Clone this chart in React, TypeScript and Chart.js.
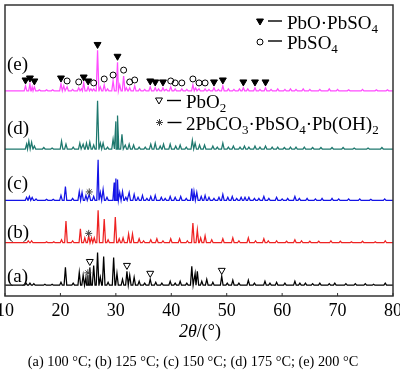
import React, { useEffect, useRef } from 'react';
import { Chart, registerables } from 'chart.js';
import { drawPoint } from 'chart.js/helpers';

Chart.register(...registerables);

// ---------- data ----------
const xTicks = [10, 20, 30, 40, 50, 60, 70, 80];
const seriesLabels = ['(a)', '(b)', '(c)', '(d)', '(e)'];
const seriesOffsets = [11, 54, 97, 149, 208];
const labelLevels = [19, 64, 114, 169, 234.5];
const seriesColors = ['#000000', '#ee2222', '#1414e6', '#1e786e', '#ff4cff'];

// [2θ, intensity]
const peaksA: [number, number][] = [
  [13.8, 2], [14.5, 2], [15.2, 1.5], [17.2, 1], [18.5, 1], [20.1, 3], [20.9, 18], [22.3, 2],
  [23.4, 13], [24.1, 10], [24.6, 8], [24.95, 10], [25.3, 18], [26.0, 20], [26.7, 33], [27.2, 8],
  [27.8, 29], [28.6, 3], [29.6, 28], [30.2, 12], [31.2, 6], [32.0, 14], [32.5, 10], [33.3, 8],
  [34.2, 4], [35.2, 2], [36.2, 6], [37.2, 3], [38.3, 2], [39.8, 4], [40.7, 2], [41.6, 4],
  [42.8, 2], [43.7, 19], [44.3, 12], [44.7, 14], [45.5, 4], [46.4, 6], [47.5, 3], [49.1, 9],
  [50.1, 2], [51.1, 5], [52.2, 2], [53.9, 5], [55.0, 2], [56.9, 4], [57.8, 2], [59.0, 3],
  [60.5, 2], [62.3, 4], [63.2, 2], [64.2, 2], [65.5, 1.5], [66.8, 2], [68.5, 1.5], [69.5, 2],
  [71.5, 1.5], [73.2, 1.5], [75.0, 1.5], [76.5, 1], [78.6, 2],
];
const peaksB: [number, number][] = [
  [14.2, 2], [14.8, 2], [17.5, 1], [18.8, 1], [20.2, 3], [21.0, 22], [22.2, 2], [23.6, 14],
  [24.4, 5], [25.1, 7], [25.6, 5], [26.1, 5], [26.8, 33], [27.9, 24], [28.6, 3], [29.9, 26],
  [30.6, 4], [31.3, 5], [32.3, 9], [33.0, 9], [34.2, 4], [35.0, 2], [36.3, 3], [37.4, 4],
  [38.5, 2], [39.9, 4], [41.5, 4], [42.9, 2], [43.9, 20], [44.7, 13], [45.3, 5], [46.1, 7],
  [47.3, 3], [49.3, 4], [51.1, 5], [52.2, 2], [53.9, 5], [55.2, 2], [56.7, 4], [57.5, 2],
  [59.0, 2], [60.8, 1.5], [62.3, 3], [63.5, 2], [65.0, 1.5], [66.6, 1.5], [68.8, 2], [70.5, 1.5],
  [72.5, 1], [74.5, 1.5], [76.8, 1], [78.6, 2],
];
const peaksC: [number, number][] = [
  [13.9, 3], [14.4, 4], [14.9, 3], [15.6, 1.5], [17.5, 1], [18.7, 1], [20.1, 5], [20.9, 14],
  [22.2, 2], [23.4, 9], [23.9, 8], [24.6, 5], [25.2, 6], [26.0, 4], [26.8, 41], [27.2, 8],
  [27.7, 11], [28.4, 3], [29.7, 18], [30.0, 22], [30.3, 21], [30.7, 8], [31.2, 9], [31.8, 3],
  [32.4, 8], [33.3, 6], [34.0, 3], [34.8, 5], [35.6, 2], [36.3, 4], [37.1, 5], [38.2, 3],
  [38.9, 2], [39.8, 4], [40.7, 3], [41.7, 4], [42.7, 2], [43.7, 12], [44.1, 9], [44.6, 8],
  [45.4, 4], [46.1, 5], [46.8, 3], [47.7, 2], [48.6, 3], [49.3, 6], [50.2, 3], [51.0, 4],
  [51.8, 2], [52.6, 3], [53.3, 3], [54.0, 3], [55.0, 2], [55.8, 2], [56.7, 4], [57.6, 2],
  [59.0, 3], [60.0, 1.5], [61.0, 2], [62.3, 4], [63.1, 2], [64.5, 2], [66.0, 1.5], [67.2, 2],
  [69.0, 2], [70.2, 1.5], [72.0, 1.5], [74.0, 1.5], [76.0, 1], [78.5, 1.5],
];
const peaksD: [number, number][] = [
  [13.9, 5], [14.3, 8], [14.8, 7], [15.3, 3], [17.0, 1.5], [18.5, 1], [20.2, 8], [21.0, 5],
  [22.3, 2], [23.5, 6], [24.1, 5], [24.7, 6], [25.3, 7], [26.0, 4], [26.7, 49], [27.2, 6],
  [27.7, 6], [28.5, 2], [29.5, 10], [30.0, 28], [30.3, 34], [31.1, 15], [31.7, 4], [32.4, 5],
  [33.2, 4], [34.2, 2], [35.3, 2], [36.3, 5], [37.1, 6], [38.0, 3], [38.6, 5], [39.8, 5],
  [40.8, 3], [41.6, 4], [42.7, 2], [43.8, 9], [44.3, 6], [45.1, 4], [46.0, 4], [47.5, 3],
  [48.3, 2], [49.3, 6], [50.3, 2], [51.2, 3], [52.4, 2], [53.2, 3], [54.0, 2], [55.1, 3],
  [56.0, 2], [57.0, 3], [58.2, 2], [59.2, 2], [60.4, 1.5], [61.5, 2], [62.5, 2], [64.0, 2],
  [65.5, 1.5], [67.0, 1.5], [69.0, 1.5], [71.0, 1.5], [73.0, 1], [75.5, 1], [78.0, 1.5],
];
const peaksE: [number, number][] = [
  [13.7, 5], [14.5, 7], [14.9, 4], [15.3, 4], [16.2, 1], [17.5, 1], [18.6, 1], [20.1, 7],
  [20.6, 5], [21.2, 4], [22.2, 1.5], [23.3, 3], [23.8, 2], [24.2, 8], [25.0, 4], [25.5, 2],
  [26.0, 2], [26.7, 41], [27.2, 4], [27.9, 6], [28.5, 2], [29.5, 10], [30.3, 29], [30.7, 6],
  [31.4, 15], [31.9, 3], [32.5, 3], [33.4, 5], [34.3, 2], [35.2, 1.5], [36.2, 4], [37.1, 3],
  [37.7, 2], [38.5, 3], [39.1, 1.5], [39.9, 4], [40.7, 2], [41.9, 2], [42.8, 1.5], [43.9, 6],
  [44.4, 3], [45.0, 2], [46.1, 2], [46.8, 1.5], [47.7, 3], [48.5, 1.5], [49.3, 5], [50.3, 2],
  [51.3, 1.5], [52.3, 2], [53.0, 3], [53.8, 2], [55.1, 3], [56.0, 1.5], [57.0, 3], [58.0, 1.5],
  [59.2, 2], [60.5, 1.5], [61.5, 2], [62.5, 1.5], [63.8, 2], [65.0, 1.5], [66.8, 1.5], [68.5, 2],
  [70.0, 1.5], [72.0, 1], [74.5, 1.5], [77.0, 1], [79.0, 1],
];
const allPeaks = [peaksA, peaksB, peaksC, peaksD, peaksE];

// phase markers (2θ positions)
const pbOPbSO4OnE = [13.7, 14.5, 15.3, 20.1, 24.2, 25.0, 26.7, 30.3, 36.2, 37.1, 38.5, 47.7, 49.3, 53.0, 55.1, 57.0];
const pbSO4OnE = [21.2, 23.3, 26.0, 27.9, 29.5, 31.4, 32.5, 33.4, 39.9, 40.7, 41.9, 43.9, 45.0, 46.1];
const pbO2OnA = [25.3, 32.0, 36.2, 49.1];
const carbonateOn: [number, number][] = [[0, 24.95], [1, 25.1], [2, 25.2]];

const legendTop = ['PbO·PbSO_4', 'PbSO_4'];
const legendMid = ['PbO_2', '2PbCO_3·PbSO_4·Pb(OH)_2'];
const caption = '(a) 100 °C; (b) 125 °C; (c) 150 °C; (d) 175 °C; (e) 200 °C';

// ---------- helpers ----------
const HALF = 0.24;
function buildProfile(peaks: [number, number][], offset: number) {
  const pts: { x: number; y: number }[] = [{ x: 10, y: offset }];
  peaks.forEach(([p, h]) => {
    pts.push({ x: p - HALF, y: offset }, { x: p, y: offset + h }, { x: p + HALF, y: offset });
  });
  pts.push({ x: 80, y: offset });
  pts.sort((a, b) => a.x - b.x);
  return pts;
}
function levelAt(peaks: [number, number][], offset: number, pos: number) {
  let m = 0;
  for (const [p, h] of peaks) {
    const d = Math.abs(p - pos);
    if (d < HALF) m = Math.max(m, h * (1 - d / HALF));
  }
  return offset + m;
}
const SERIF = '"Liberation Serif", "Times New Roman", serif';
function drawChem(ctx: CanvasRenderingContext2D, text: string, x: number, baseline: number, size: number) {
  const parts = text.split(/_(\d)/);
  let cx = x;
  parts.forEach((s, i) => {
    const sub = i % 2 === 1;
    ctx.font = `${sub ? Math.round(size * 0.68) : size}px ${SERIF}`;
    ctx.fillText(s, cx, sub ? baseline + size * 0.22 : baseline);
    cx += ctx.measureText(s).width;
  });
}

const overlay = {
  id: 'overlay',
  afterDraw(chart: any) {
    const { ctx, chartArea: ca, scales } = chart;
    const xs = scales.x;
    const ys = scales.y;
    ctx.save();
    // frame
    ctx.strokeStyle = '#333';
    ctx.lineWidth = 1.5;
    ctx.strokeRect(ca.left, ca.top, ca.right - ca.left, ca.bottom - ca.top);
    // inward ticks
    ctx.lineWidth = 1;
    xTicks.forEach((v) => {
      const px = xs.getPixelForValue(v);
      ctx.beginPath();
      ctx.moveTo(px, ca.bottom);
      ctx.lineTo(px, ca.bottom - 3);
      ctx.stroke();
    });
    // series labels
    ctx.fillStyle = '#000';
    ctx.textAlign = 'left';
    ctx.textBaseline = 'middle';
    ctx.font = `19px ${SERIF}`;
    seriesLabels.forEach((t, i) => ctx.fillText(t, ca.left + 2, ys.getPixelForValue(labelLevels[i])));

    // legends
    ctx.textBaseline = 'alphabetic';
    const rows = [
      { sym: 'tri', text: legendTop[0], sx: 260, sy: 21, tx: 287, base: 28.5 },
      { sym: 'circ', text: legendTop[1], sx: 260, sy: 42, tx: 287, base: 48.5 },
      { sym: 'otri', text: legendMid[0], sx: 159, sy: 100, tx: 186, base: 108 },
      { sym: 'star', text: legendMid[1], sx: 159.5, sy: 122.5, tx: 186, base: 130 },
    ];
    rows.forEach((r) => {
      ctx.strokeStyle = '#000';
      ctx.lineWidth = 1;
      if (r.sym === 'tri') {
        ctx.fillStyle = '#000';
        drawPoint(ctx, { pointStyle: 'triangle', radius: 4, rotation: 180, borderWidth: 1 } as any, r.sx, r.sy);
      } else if (r.sym === 'circ') {
        ctx.fillStyle = 'rgba(255,255,255,0)';
        drawPoint(ctx, { pointStyle: 'circle', radius: 3, rotation: 0, borderWidth: 1 } as any, r.sx, r.sy);
      } else if (r.sym === 'otri') {
        ctx.fillStyle = '#fff';
        drawPoint(ctx, { pointStyle: 'triangle', radius: 4, rotation: 180, borderWidth: 1 } as any, r.sx, r.sy);
      } else {
        ctx.fillStyle = 'rgba(255,255,255,0)';
        ctx.strokeStyle = '#444';
        drawPoint(ctx, { pointStyle: 'star', radius: 3.5, rotation: 0, borderWidth: 1 } as any, r.sx, r.sy);
      }
      ctx.fillStyle = '#000';
      ctx.fillRect(r.sx + 8, r.base - 8.2, 14, 1.4);
      drawChem(ctx, r.text, r.tx, r.base, 19);
    });

    // axis title
    ctx.fillStyle = '#000';
    ctx.font = `italic 18px ${SERIF}`;
    const t1 = '2θ';
    const w1 = ctx.measureText(t1).width;
    ctx.font = `18px ${SERIF}`;
    const t2 = '/(°)';
    const w2 = ctx.measureText(t2).width;
    const cx = (ca.left + ca.right) / 2 + 1;
    const sx = cx - (w1 + w2) / 2;
    ctx.font = `italic 18px ${SERIF}`;
    ctx.fillText(t1, sx, 337);
    ctx.font = `18px ${SERIF}`;
    ctx.fillText(t2, sx + w1, 337);

    // caption
    ctx.font = `14.3px ${SERIF}`;
    ctx.textAlign = 'center';
    ctx.fillText(caption, 193, 366);
    ctx.restore();
  },
};

export default function App() {
  const ref = useRef<HTMLCanvasElement | null>(null);
  useEffect(() => {
    document.body.style.margin = '0';
    const canvas = ref.current;
    if (!canvas) return;
    const lineSets = allPeaks.map((pk, i) => ({
      type: 'line' as const,
      label: seriesLabels[i],
      data: buildProfile(pk, seriesOffsets[i]),
      borderColor: seriesColors[i],
      borderWidth: 1.25,
      pointRadius: 0,
      tension: 0,
      fill: false,
      order: 10,
    }));
    const markerSets: any[] = [
      {
        type: 'line',
        label: 'PbO·PbSO4',
        showLine: false,
        data: pbOPbSO4OnE.map((p) => ({ x: p, y: levelAt(peaksE, seriesOffsets[4], p) + 6 })),
        pointStyle: 'triangle',
        rotation: 180,
        pointRadius: 4,
        pointBackgroundColor: '#000',
        pointBorderColor: '#000',
        pointBorderWidth: 1,
        order: 1,
      },
      {
        type: 'line',
        label: 'PbSO4',
        showLine: false,
        data: pbSO4OnE.map((p) => ({ x: p, y: levelAt(peaksE, seriesOffsets[4], p) + 6 })),
        pointStyle: 'circle',
        pointRadius: 3,
        pointBackgroundColor: 'rgba(255,255,255,0)',
        pointBorderColor: '#000',
        pointBorderWidth: 1,
        order: 1,
      },
      {
        type: 'line',
        label: 'PbO2',
        showLine: false,
        data: pbO2OnA.map((p) => ({ x: p, y: levelAt(peaksA, seriesOffsets[0], p) + 6 })),
        pointStyle: 'triangle',
        rotation: 180,
        pointRadius: 4,
        pointBackgroundColor: '#fff',
        pointBorderColor: '#000',
        pointBorderWidth: 1,
        order: 1,
      },
      {
        type: 'line',
        label: 'carbonate',
        showLine: false,
        data: carbonateOn.map(([s, p]) => ({ x: p, y: levelAt(allPeaks[s], seriesOffsets[s], p) + 2.5 })),
        pointStyle: 'star',
        pointRadius: 3.5,
        pointBorderColor: '#444',
        pointBorderWidth: 1,
        order: 1,
      },
    ];
    const chart = new Chart(canvas, {
      type: 'line',
      data: { datasets: [...lineSets, ...markerSets] },
      options: {
        animation: false,
        responsive: false,
        devicePixelRatio: 1,
        parsing: false as any,
        layout: { padding: { left: 5, right: 7, top: 1, bottom: 0 } },
        plugins: { legend: { display: false }, tooltip: { enabled: false }, title: { display: false } },
        scales: {
          x: {
            type: 'linear',
            min: 10,
            max: 80,
            afterBuildTicks: (scale: any) => {
              scale.ticks = xTicks.map((v) => ({ value: v }));
            },
            afterFit: (scale: any) => {
              scale.paddingLeft = 0;
              scale.paddingRight = 0;
              scale.height = 77;
            },
            ticks: {
              autoSkip: false,
              maxRotation: 0,
              padding: 4,
              color: '#000',
              font: { family: SERIF, size: 18 },
            },
            grid: { display: false, drawTicks: false },
            border: { display: false },
          },
          y: { type: 'linear', display: false, min: 0, max: 295 },
        },
      },
      plugins: [overlay],
    });
    return () => chart.destroy();
  }, []);
  return (
    <div style={{ width: 400, height: 373 }}>
      <canvas ref={ref} width={400} height={373} style={{ display: 'block' }} />
    </div>
  );
}
